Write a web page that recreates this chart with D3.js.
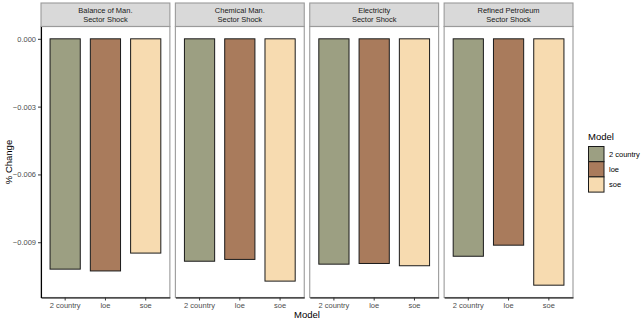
<!DOCTYPE html>
<html>
<head>
<meta charset="utf-8">
<script src="https://cdn.jsdelivr.net/npm/d3@7"></script>
<style>
  html, body { margin: 0; padding: 0; background: #fff; }
  svg { display: block; font-family: "Liberation Sans", Arial, Helvetica, sans-serif; }
</style>
</head>
<body>
<svg id="chart" width="643" height="321"></svg>
<script>
// Sector shocks shown as facets, one bar per model
const sectors = [
  ["Balance of Man.", "Sector Shock"],
  ["Chemical Man.", "Sector Shock"],
  ["Electricity", "Sector Shock"],
  ["Refined Petroleum", "Sector Shock"]
];
const models = ["2 country", "loe", "soe"];
const modelColors = ["#9c9f82", "#a97b5c", "#f7dbb0"];

// % change per sector (rows) and model (columns)
const balanceMan  = [-0.01019, -0.01027, -0.00948];
const chemicalMan = [-0.00984, -0.00976, -0.01072];
const electricity = [-0.00997, -0.00994, -0.01004];
const refinedPet  = [-0.00962, -0.00913, -0.01090];
const sectorValues = [balanceMan, chemicalMan, electricity, refinedPet];

const yTicks = [0, -0.003, -0.006, -0.009];

const svg = d3.select("#chart");

const smallFont = 7.5, titleFont = 9.5;
const panelLeft = 41, panelRight = 573, panelGap = 5.5;
const stripTop = 3, stripBottom = 26.5, panelBottom = 297.5;
const panelW = (panelRight - panelLeft - panelGap * 3) / 4;

// y scale with 5% expansion on the data range
const yMin = d3.min(sectorValues.flat()), yMax = 0;
const pad = (yMax - yMin) * 0.05;
const y = d3.scaleLinear().domain([yMin - pad, yMax + pad]).range([panelBottom, stripBottom]);

const x = d3.scaleBand().domain(models).range([0, panelW])
  .paddingInner(0.25).paddingOuter(0.225);

const fmt = d3.format(".3f");

sectorValues.forEach((vals, i) => {
  const x0 = panelLeft + i * (panelW + panelGap);
  const g = svg.append("g").attr("transform", `translate(${x0},0)`);

  // strip
  g.append("rect").attr("x", 0).attr("y", stripTop)
    .attr("width", panelW).attr("height", stripBottom - stripTop)
    .attr("fill", "#d9d9d9").attr("stroke", "#9a9a9a").attr("stroke-width", 1.1);
  g.append("text").attr("x", panelW / 2).attr("y", 12.8)
    .attr("text-anchor", "middle").attr("font-size", smallFont).attr("fill", "#1a1a1a")
    .selectAll("tspan").data(sectors[i]).join("tspan")
    .attr("x", panelW / 2).attr("dy", (d, k) => k === 0 ? 0 : 9.6).text(d => d);

  // panel border
  g.append("rect").attr("x", 0).attr("y", stripBottom)
    .attr("width", panelW).attr("height", panelBottom - stripBottom)
    .attr("fill", "none").attr("stroke", "#9a9a9a").attr("stroke-width", 1.1);

  // bars
  g.selectAll("rect.bar").data(vals).join("rect").attr("class", "bar")
    .attr("x", (d, k) => x(models[k]))
    .attr("width", x.bandwidth())
    .attr("y", d => y(Math.max(0, d)))
    .attr("height", d => Math.abs(y(d) - y(0)))
    .attr("fill", (d, k) => modelColors[k])
    .attr("stroke", "#1a1a1a").attr("stroke-width", 1);

  // x axis
  const xa = g.append("g").attr("transform", `translate(0,${panelBottom})`)
    .call(d3.axisBottom(x).tickSizeOuter(0).tickSizeInner(3).tickPadding(2.5));
  xa.select(".domain").attr("stroke", "#000").attr("stroke-width", 1.1);
  xa.selectAll(".tick line").attr("stroke", "#333");
  xa.selectAll(".tick text").attr("font-size", smallFont).attr("fill", "#4d4d4d")
    .attr("font-family", "Liberation Sans, Arial, sans-serif");

  if (i === 0) {
    const ya = g.append("g")
      .call(d3.axisLeft(y).tickValues(yTicks).tickFormat(fmt).tickSizeOuter(0).tickSizeInner(3).tickPadding(2));
    ya.select(".domain").attr("stroke", "#000").attr("stroke-width", 1.1);
    ya.selectAll(".tick line").attr("stroke", "#333");
    ya.selectAll(".tick text").attr("font-size", smallFont).attr("fill", "#4d4d4d")
      .attr("font-family", "Liberation Sans, Arial, sans-serif");
  }
});

// axis titles
svg.append("text").attr("x", (panelLeft + panelRight) / 2).attr("y", 318)
  .attr("text-anchor", "middle").attr("font-size", titleFont).attr("fill", "#000").text("Model");
svg.append("text")
  .attr("transform", `translate(11.5,${(stripBottom + panelBottom) / 2}) rotate(-90)`)
  .attr("text-anchor", "middle").attr("font-size", titleFont).attr("fill", "#000").text("% Change");

// legend
const lg = svg.append("g").attr("transform", "translate(588,0)");
lg.append("text").attr("x", 0).attr("y", 139.5).attr("font-size", titleFont).attr("fill", "#000").text("Model");
const keyH = 15.2;
lg.selectAll("rect.key").data(models).join("rect").attr("class", "key")
  .attr("x", 0.5).attr("y", (d, k) => 146.5 + k * keyH)
  .attr("width", 15.5).attr("height", keyH)
  .attr("fill", (d, k) => modelColors[k]).attr("stroke", "#1a1a1a").attr("stroke-width", 1);
lg.selectAll("text.lab").data(models).join("text").attr("class", "lab")
  .attr("x", 21).attr("y", (d, k) => 146.5 + k * keyH + keyH / 2 + 2.7)
  .attr("font-size", smallFont).attr("fill", "#000").text(d => d);
</script>
</body>
</html>
